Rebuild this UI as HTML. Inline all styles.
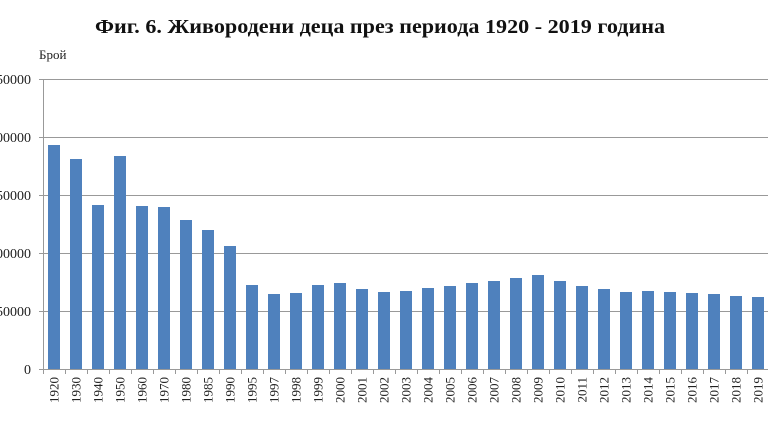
<!DOCTYPE html>
<html><head><meta charset="utf-8"><style>body{margin:0;background:#fff}svg{display:block}</style></head><body>
<svg width="768" height="432" xmlns="http://www.w3.org/2000/svg" font-family="Liberation Serif, serif">
<text x="380" y="33" text-anchor="middle" font-size="20.5" font-weight="bold" fill="#111" textLength="570" lengthAdjust="spacingAndGlyphs">Фиг. 6. Живородени деца през периода 1920 - 2019 година</text>
<text x="39" y="59" font-size="13" fill="#222">Брой</text>
<g stroke="#999" stroke-width="1">
<line x1="39" y1="79.5" x2="768" y2="79.5"/><line x1="39" y1="137.5" x2="768" y2="137.5"/><line x1="39" y1="195.5" x2="768" y2="195.5"/><line x1="39" y1="253.5" x2="768" y2="253.5"/><line x1="39" y1="311.5" x2="768" y2="311.5"/><line x1="39" y1="369.5" x2="768" y2="369.5"/>
<line x1="43.5" y1="79" x2="43.5" y2="374"/>
</g>
<g font-size="14" fill="#222" text-anchor="end">
<text x="31" y="84">250000</text><text x="31" y="142">200000</text><text x="31" y="200">150000</text><text x="31" y="258">100000</text><text x="31" y="316">50000</text><text x="31" y="374">0</text>
</g>
<g fill="#4f81bd">
<rect x="48" y="145" width="12" height="224"/><rect x="70" y="159" width="12" height="210"/><rect x="92" y="205" width="12" height="164"/><rect x="114" y="156" width="12" height="213"/><rect x="136" y="206" width="12" height="163"/><rect x="158" y="207" width="12" height="162"/><rect x="180" y="220" width="12" height="149"/><rect x="202" y="230" width="12" height="139"/><rect x="224" y="246" width="12" height="123"/><rect x="246" y="285" width="12" height="84"/><rect x="268" y="294" width="12" height="75"/><rect x="290" y="293" width="12" height="76"/><rect x="312" y="285" width="12" height="84"/><rect x="334" y="283" width="12" height="86"/><rect x="356" y="289" width="12" height="80"/><rect x="378" y="292" width="12" height="77"/><rect x="400" y="291" width="12" height="78"/><rect x="422" y="288" width="12" height="81"/><rect x="444" y="286" width="12" height="83"/><rect x="466" y="283" width="12" height="86"/><rect x="488" y="281" width="12" height="88"/><rect x="510" y="278" width="12" height="91"/><rect x="532" y="275" width="12" height="94"/><rect x="554" y="281" width="12" height="88"/><rect x="576" y="286" width="12" height="83"/><rect x="598" y="289" width="12" height="80"/><rect x="620" y="292" width="12" height="77"/><rect x="642" y="291" width="12" height="78"/><rect x="664" y="292" width="12" height="77"/><rect x="686" y="293" width="12" height="76"/><rect x="708" y="294" width="12" height="75"/><rect x="730" y="296" width="12" height="73"/><rect x="752" y="297" width="12" height="72"/>
</g>
<g stroke="#999"><line x1="65.5" y1="369" x2="65.5" y2="374"/><line x1="87.5" y1="369" x2="87.5" y2="374"/><line x1="109.5" y1="369" x2="109.5" y2="374"/><line x1="131.5" y1="369" x2="131.5" y2="374"/><line x1="153.5" y1="369" x2="153.5" y2="374"/><line x1="175.5" y1="369" x2="175.5" y2="374"/><line x1="197.5" y1="369" x2="197.5" y2="374"/><line x1="219.5" y1="369" x2="219.5" y2="374"/><line x1="241.5" y1="369" x2="241.5" y2="374"/><line x1="263.5" y1="369" x2="263.5" y2="374"/><line x1="285.5" y1="369" x2="285.5" y2="374"/><line x1="307.5" y1="369" x2="307.5" y2="374"/><line x1="329.5" y1="369" x2="329.5" y2="374"/><line x1="351.5" y1="369" x2="351.5" y2="374"/><line x1="373.5" y1="369" x2="373.5" y2="374"/><line x1="395.5" y1="369" x2="395.5" y2="374"/><line x1="417.5" y1="369" x2="417.5" y2="374"/><line x1="439.5" y1="369" x2="439.5" y2="374"/><line x1="461.5" y1="369" x2="461.5" y2="374"/><line x1="483.5" y1="369" x2="483.5" y2="374"/><line x1="505.5" y1="369" x2="505.5" y2="374"/><line x1="527.5" y1="369" x2="527.5" y2="374"/><line x1="549.5" y1="369" x2="549.5" y2="374"/><line x1="571.5" y1="369" x2="571.5" y2="374"/><line x1="593.5" y1="369" x2="593.5" y2="374"/><line x1="615.5" y1="369" x2="615.5" y2="374"/><line x1="637.5" y1="369" x2="637.5" y2="374"/><line x1="659.5" y1="369" x2="659.5" y2="374"/><line x1="681.5" y1="369" x2="681.5" y2="374"/><line x1="703.5" y1="369" x2="703.5" y2="374"/><line x1="725.5" y1="369" x2="725.5" y2="374"/><line x1="747.5" y1="369" x2="747.5" y2="374"/></g>
<g font-size="13" fill="#222" text-anchor="end">
<text transform="translate(58.5,377) rotate(-90)">1920</text><text transform="translate(80.5,377) rotate(-90)">1930</text><text transform="translate(102.5,377) rotate(-90)">1940</text><text transform="translate(124.5,377) rotate(-90)">1950</text><text transform="translate(146.5,377) rotate(-90)">1960</text><text transform="translate(168.5,377) rotate(-90)">1970</text><text transform="translate(190.5,377) rotate(-90)">1980</text><text transform="translate(212.5,377) rotate(-90)">1985</text><text transform="translate(234.5,377) rotate(-90)">1990</text><text transform="translate(256.5,377) rotate(-90)">1995</text><text transform="translate(278.5,377) rotate(-90)">1997</text><text transform="translate(300.5,377) rotate(-90)">1998</text><text transform="translate(322.5,377) rotate(-90)">1999</text><text transform="translate(344.5,377) rotate(-90)">2000</text><text transform="translate(366.5,377) rotate(-90)">2001</text><text transform="translate(388.5,377) rotate(-90)">2002</text><text transform="translate(410.5,377) rotate(-90)">2003</text><text transform="translate(432.5,377) rotate(-90)">2004</text><text transform="translate(454.5,377) rotate(-90)">2005</text><text transform="translate(476.5,377) rotate(-90)">2006</text><text transform="translate(498.5,377) rotate(-90)">2007</text><text transform="translate(520.5,377) rotate(-90)">2008</text><text transform="translate(542.5,377) rotate(-90)">2009</text><text transform="translate(564.5,377) rotate(-90)">2010</text><text transform="translate(586.5,377) rotate(-90)">2011</text><text transform="translate(608.5,377) rotate(-90)">2012</text><text transform="translate(630.5,377) rotate(-90)">2013</text><text transform="translate(652.5,377) rotate(-90)">2014</text><text transform="translate(674.5,377) rotate(-90)">2015</text><text transform="translate(696.5,377) rotate(-90)">2016</text><text transform="translate(718.5,377) rotate(-90)">2017</text><text transform="translate(740.5,377) rotate(-90)">2018</text><text transform="translate(762.5,377) rotate(-90)">2019</text>
</g>
</svg>
</body></html>
